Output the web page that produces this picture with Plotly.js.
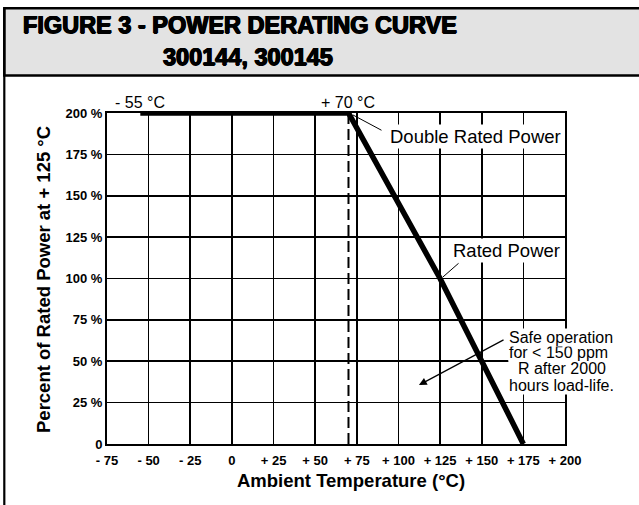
<!DOCTYPE html>
<html>
<head>
<meta charset="utf-8">
<script src="https://cdn.plot.ly/plotly-3.0.1.min.js"></script>
<style>html,body{margin:0;padding:0;background:#fff;}#chart{width:639px;height:505px;}</style>
</head>
<body>
<div id="chart"></div>
<script>
// ---- data ----
const xTickVals = [-75, -50, -25, 0, 25, 50, 75, 100, 125, 150, 175, 200];
const xTickText = ['- 75', '- 50', '- 25', '0', '+ 25', '+ 50', '+ 75', '+ 100', '+ 125', '+ 150', '+ 175', '+ 200'];
const yTickVals = [0, 25, 50, 75, 100, 125, 150, 175, 200];
const yTickText = ['0', '25 %', '50 %', '75 %', '100 %', '125 %', '150 %', '175 %', '200 %'];
const curveTemp = [-55, 70, 125, 175];
const curvePower = [200, 200, 100, 0];
const limitTemp = [70, 70];
const limitPower = [0, 200];
const titleLines = ['FIGURE 3 - POWER DERATING CURVE', '300144, 300145'];
const xTitle = 'Ambient Temperature (°C)';
const yTitle = 'Percent of Rated Power at + 125 °C';
const safeLines = ['Safe operation', 'for &lt; 150 ppm', '\u00a0\u00a0R after 2000', 'hours load-life.'];

const FONT = 'Liberation Sans, Arial, Helvetica, sans-serif';
const HEAVY = {family: FONT, size: 23.5, weight: 'bold', color: '#000',
  shadow: '0.7px 0 0 #000, -0.7px 0 0 #000, 0 0.5px 0 #000, 0 -0.5px 0 #000'};

const traces = [
  {x: limitTemp, y: limitPower, mode: 'lines', line: {color: '#000', width: 2, dash: '11px,5px'}, hoverinfo: 'skip', showlegend: false},
  {x: curveTemp, y: curvePower, mode: 'lines', line: {color: '#000', width: 5.5}, hoverinfo: 'skip', showlegend: false, cliponaxis: false}
];

// pixel helpers for page furniture only (plot area 107..565 x 113..444)
const px = v => (v - 107) / 458;
const py = v => (444 - v) / 331;

const annotations = [
  {xref: 'paper', yref: 'paper', x: px(240), y: py(25), text: titleLines[0], showarrow: false,
   font: HEAVY, xanchor: 'center', yanchor: 'middle'},
  {xref: 'paper', yref: 'paper', x: px(248), y: py(57), text: titleLines[1], showarrow: false,
   font: HEAVY, xanchor: 'center', yanchor: 'middle'},
  {xref: 'paper', yref: 'paper', x: px(351), y: py(480), text: xTitle, showarrow: false,
   xanchor: 'center', yanchor: 'middle',
   font: {family: FONT, size: 18.5, weight: 'bold', color: '#000'}},
  {xref: 'paper', yref: 'paper', x: px(43), y: py(280), text: yTitle, showarrow: false, textangle: -90,
   xanchor: 'center', yanchor: 'middle',
   font: {family: FONT, size: 18.5, weight: 'bold', color: '#000'}},
  {x: -55, y: 200, text: '- 55 °C', showarrow: false, xanchor: 'center', yanchor: 'bottom', yshift: 0, font: {family: FONT, size: 16, color: '#000'}},
  {x: 70, y: 200, text: '+ 70 °C', showarrow: false, xanchor: 'center', yanchor: 'bottom', yshift: 0, font: {family: FONT, size: 16, color: '#000'}},
  // leader lines
  {x: 72.7, y: 198.8, ax: 90.7, ay: 189.1, axref: 'x', ayref: 'y', text: '', showarrow: true, arrowhead: 0, arrowwidth: 1, arrowcolor: '#000', standoff: 0},
  {x: 126.7, y: 100.9, ax: 137, ay: 110, axref: 'x', ayref: 'y', text: '', showarrow: true, arrowhead: 0, arrowwidth: 1, arrowcolor: '#000', standoff: 0},
  {x: 112.3, y: 35.6, ax: 164, ay: 63.4, axref: 'x', ayref: 'y', text: '', showarrow: true, arrowhead: 2, arrowsize: 1.3, arrowwidth: 1.2, arrowcolor: '#000', standoff: 0},
  {x: 146, y: 186.1, text: 'Double Rated Power', showarrow: false, xanchor: 'center', yanchor: 'middle', bgcolor: '#fff', borderpad: 1, font: {family: FONT, size: 18.5, color: '#000'}},
  {x: 164.6, y: 117.2, text: 'Rated Power', showarrow: false, xanchor: 'center', yanchor: 'middle', bgcolor: '#fff', borderpad: 1, font: {family: FONT, size: 18.5, color: '#000'}}
];
// safe-operation note, one line per annotation (drawn bottom to top)
const safeY = [64.6, 55.0, 45.9, 35.6];
for (let i = safeLines.length - 1; i >= 0; i--) {
  annotations.push({x: 165.8, y: safeY[i], text: safeLines[i], showarrow: false, xanchor: 'left', yanchor: 'middle',
    bgcolor: '#fff', borderpad: 0, font: {family: FONT, size: 16, color: '#000'}});
}

const layout = {
  width: 639, height: 505,
  margin: {l: 107, r: 74, t: 113, b: 61},
  paper_bgcolor: '#fff', plot_bgcolor: '#fff',
  showlegend: false,
  font: {family: FONT, color: '#000'},
  xaxis: {
    range: [-75, 200], tickvals: xTickVals, ticktext: xTickText, ticks: '', ticklabelstandoff: 3,
    showgrid: true, gridcolor: '#000', gridwidth: 1.6,
    showline: true, mirror: true, linecolor: '#000', linewidth: 2, zeroline: false,
    tickfont: {family: FONT, size: 13, weight: 'bold', color: '#000'}, fixedrange: true
  },
  yaxis: {
    range: [0, 200], tickvals: yTickVals, ticktext: yTickText, ticks: '',
    showgrid: true, gridcolor: '#000', gridwidth: 1.6,
    showline: true, mirror: true, linecolor: '#000', linewidth: 2, zeroline: false,
    tickfont: {family: FONT, size: 13, weight: 'bold', color: '#000'}, fixedrange: true
  },
  shapes: [
    {type: 'rect', xref: 'paper', yref: 'paper', x0: px(4.3), x1: px(660), y0: py(75.5), y1: py(8.3),
     fillcolor: '#e3e3e3', line: {color: '#000', width: 2.5}, layer: 'below'},
    {type: 'line', xref: 'paper', yref: 'paper', x0: px(4.3), x1: px(4.3), y0: py(8.3), y1: py(520),
     line: {color: '#000', width: 2.2}}
  ],
  annotations: annotations
};

Plotly.newPlot('chart', traces, layout, {displayModeBar: false, staticPlot: true});
</script>
</body>
</html>
